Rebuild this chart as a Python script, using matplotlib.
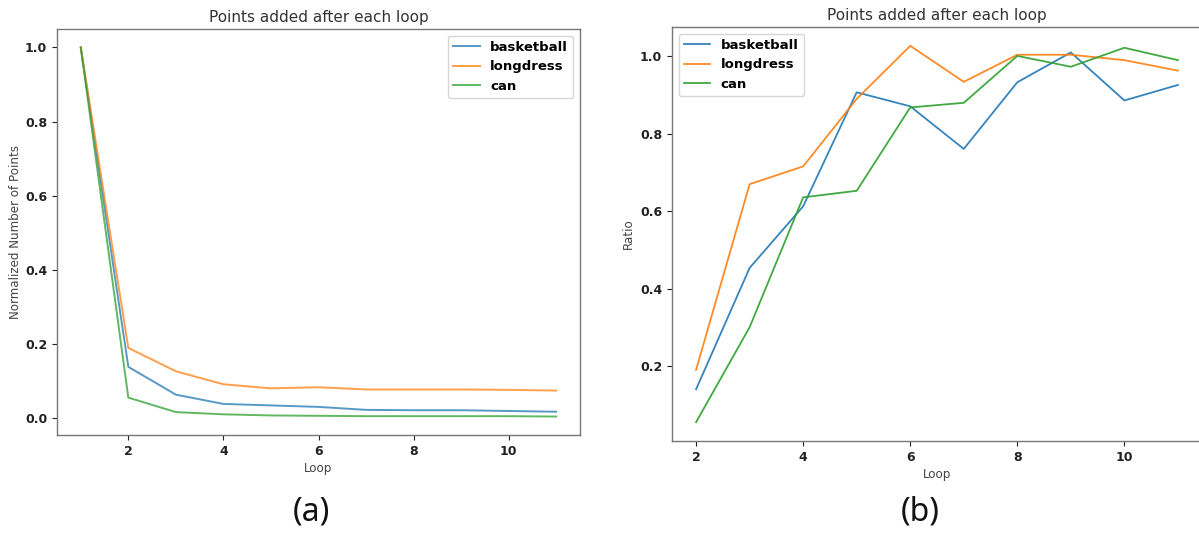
import matplotlib
matplotlib.use("Agg")
import matplotlib.pyplot as plt

# Loop indices
loops_a = [1, 2, 3, 4, 5, 6, 7, 8, 9, 10, 11]
loops_b = [2, 3, 4, 5, 6, 7, 8, 9, 10, 11]

series_names = ["basketball", "longdress", "can"]

# Normalized number of points added after each loop
norm_basketball = [1.0, 0.139, 0.064, 0.039, 0.035, 0.031, 0.023, 0.022, 0.022, 0.020, 0.018]
norm_longdress = [1.0, 0.190, 0.127, 0.092, 0.081, 0.084, 0.078, 0.078, 0.078, 0.077, 0.075]
norm_can = [1.0, 0.056, 0.017, 0.011, 0.008, 0.007, 0.006, 0.006, 0.006, 0.006, 0.005]

# Ratio of points added per loop
ratio_basketball = [0.141, 0.454, 0.613, 0.907, 0.871, 0.761, 0.933, 1.010, 0.886, 0.926]
ratio_longdress = [0.191, 0.670, 0.716, 0.890, 1.027, 0.934, 1.004, 1.004, 0.990, 0.963]
ratio_can = [0.056, 0.301, 0.636, 0.653, 0.868, 0.880, 1.001, 0.973, 1.022, 0.990]

colors = ["#1f77b4", "#ff7f0e", "#2ca02c"]
title_text = "Points added after each loop"

W, H = 1199, 533
fig = plt.figure(figsize=(W / 100, H / 100), dpi=100)

def px_axes(left, top, right, bottom):
    return fig.add_axes([left / W, 1 - bottom / H, (right - left) / W, (bottom - top) / H])

ax1 = px_axes(57, 29, 580, 435)
ax2 = px_axes(672, 27, 1202, 441)

label_kw = dict(family="DejaVu Sans", fontsize=8.6, color="#444444")
title_kw = dict(family="DejaVu Sans", fontsize=11, color="#333333")

def style(ax):
    for s in ax.spines.values():
        s.set_color("#777777")
        s.set_linewidth(1.0)
    ax.tick_params(colors="#222222", labelsize=9, width=0.8, length=3.5)
    for lab in ax.get_xticklabels() + ax.get_yticklabels():
        lab.set_fontweight("bold")

for vals, name, c in zip([norm_basketball, norm_longdress, norm_can], series_names, colors):
    ax1.plot(loops_a, vals, color=c, lw=1.4, alpha=0.75, label=name)
ax1.set_xticks([2, 4, 6, 8, 10])
ax1.set_yticks([0.0, 0.2, 0.4, 0.6, 0.8, 1.0])
ax1.set_title(title_text, pad=5, **title_kw)
ax1.set_xlabel("Loop", labelpad=3, **label_kw)
ax1.set_ylabel("Normalized Number of Points", labelpad=2.5, **label_kw)
style(ax1)
ax1.legend(loc="upper right", prop=dict(weight="bold", size=9.5), handlelength=2.0)

for vals, name, c in zip([ratio_basketball, ratio_longdress, ratio_can], series_names, colors):
    ax2.plot(loops_b, vals, color=c, lw=1.3, alpha=0.9, label=name)
ax2.set_xticks([2, 4, 6, 8, 10])
ax2.set_yticks([0.2, 0.4, 0.6, 0.8, 1.0])
ax2.set_title(title_text, pad=5, **title_kw)
ax2.set_xlabel("Loop", labelpad=3, **label_kw)
ax2.set_ylabel("Ratio", labelpad=3.5, **label_kw)
style(ax2)
# the right-hand panel runs off the figure edge
ax2.spines["right"].set_visible(False)
ax2.legend(loc="upper left", prop=dict(weight="bold", size=9.5), handlelength=2.0)

fig.text(311 / W, 1 - 512 / H, "(a)", family="Noto Sans", fontsize=23, color="#111111",
         ha="center", va="center")
fig.text(920 / W, 1 - 512 / H, "(b)", family="Noto Sans", fontsize=23, color="#111111",
         ha="center", va="center")

fig.savefig("out.png", dpi=100)
